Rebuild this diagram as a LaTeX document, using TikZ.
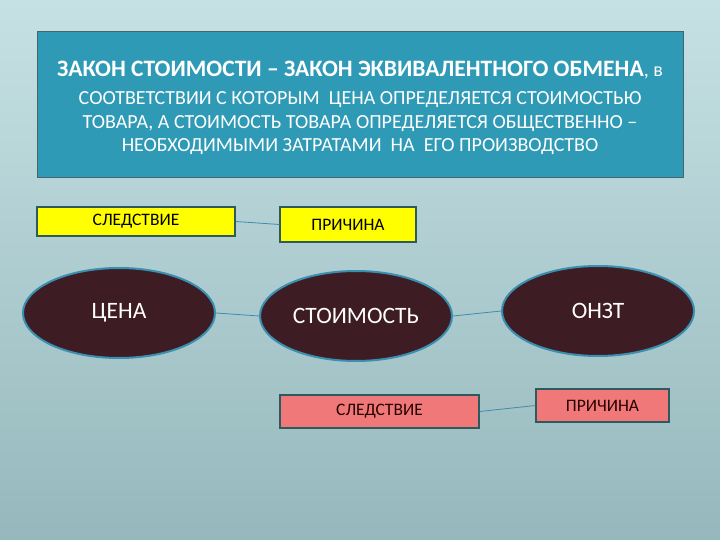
\documentclass[tikz,border=0pt]{standalone}
\usepackage{fontspec}
\setmainfont{Carlito}
\usetikzlibrary{shapes.geometric}
\definecolor{bgtop}{RGB}{198,225,228}
\definecolor{bgbot}{RGB}{150,184,188}
\definecolor{topbox}{RGB}{46,154,182}
\definecolor{topedge}{RGB}{70,100,110}
\definecolor{ybox}{RGB}{255,255,0}
\definecolor{pbox}{RGB}{240,120,120}
\definecolor{boxedge}{RGB}{45,90,95}
\definecolor{maroon}{RGB}{62,28,36}
\definecolor{ovedge}{RGB}{58,143,176}
\definecolor{linkc}{RGB}{60,140,175}
\tikzset{
  ybx/.style={draw=boxedge, line width=1.2pt, fill=ybox, inner sep=0pt, font=\fontsize{17.5}{20}\selectfont, text=black},
  pbx/.style={draw=boxedge, line width=1.2pt, fill=pbox, inner sep=0pt, font=\fontsize{17.5}{20}\selectfont, text=black!85!red},
  ov/.style={ellipse, draw=ovedge, line width=2pt, fill=maroon, minimum width=192pt, minimum height=90pt, text=white, font=\fontsize{23.5}{26}\selectfont},
  lnk/.style={draw=linkc, line width=0.8pt}
}
\begin{document}
\begin{tikzpicture}[x=1pt,y=-1pt]
\shade[top color=bgtop, bottom color=bgbot] (0,0) rectangle (720,540);
\useasboundingbox (0,0) rectangle (720,540);
\node[draw=topedge, line width=1pt, fill=topbox, minimum width=646pt, minimum height=146pt, inner sep=0pt] (law) at (360,105) {};
\node[text=white, align=center, font=\fontsize{20}{23.5}\selectfont] (lawtext) at (360,108) {{\fontsize{23.5}{23.5}\selectfont\bfseries ЗАКОН СТОИМОСТИ – ЗАКОН ЭКВИВАЛЕНТНОГО ОБМЕНА}, в\\[5pt] СООТВЕТСТВИИ С КОТОРЫМ\ \ ЦЕНА ОПРЕДЕЛЯЕТСЯ СТОИМОСТЬЮ\\ ТОВАРА, А СТОИМОСТЬ ТОВАРА ОПРЕДЕЛЯЕТСЯ ОБЩЕСТВЕННО –\\ НЕОБХОДИМЫМИ ЗАТРАТАМИ\ \ НА\ \ ЕГО ПРОИЗВОДСТВО};
\node[ybx, minimum width=198pt, minimum height=29pt] (s1) at (136,221.5) {СЛЕДСТВИЕ};
\node[ybx, minimum width=136pt, minimum height=35pt] (p1) at (348,224.5) {ПРИЧИНА};
\node[ov] (cena) at (119,313) {\raisebox{-2pt}{ЦЕНА}};
\node[ov] (stoim) at (356,316) {\raisebox{-2pt}{СТОИМОСТЬ}};
\node[ov] (onzt) at (598,311) {\raisebox{-2pt}{ОНЗТ}};
\node[pbx, minimum width=199pt, minimum height=33pt] (s2) at (379.5,411.5) {СЛЕДСТВИЕ};
\node[pbx, minimum width=133pt, minimum height=33pt] (p2) at (602.5,405.5) {ПРИЧИНА};
\draw[lnk] (s1.east) -- (p1.west);
\draw[lnk] (cena.east) -- (stoim.west);
\draw[lnk] (stoim.east) -- (onzt.west);
\draw[lnk] (s2.east) -- (p2.west);
\end{tikzpicture}
\end{document}
